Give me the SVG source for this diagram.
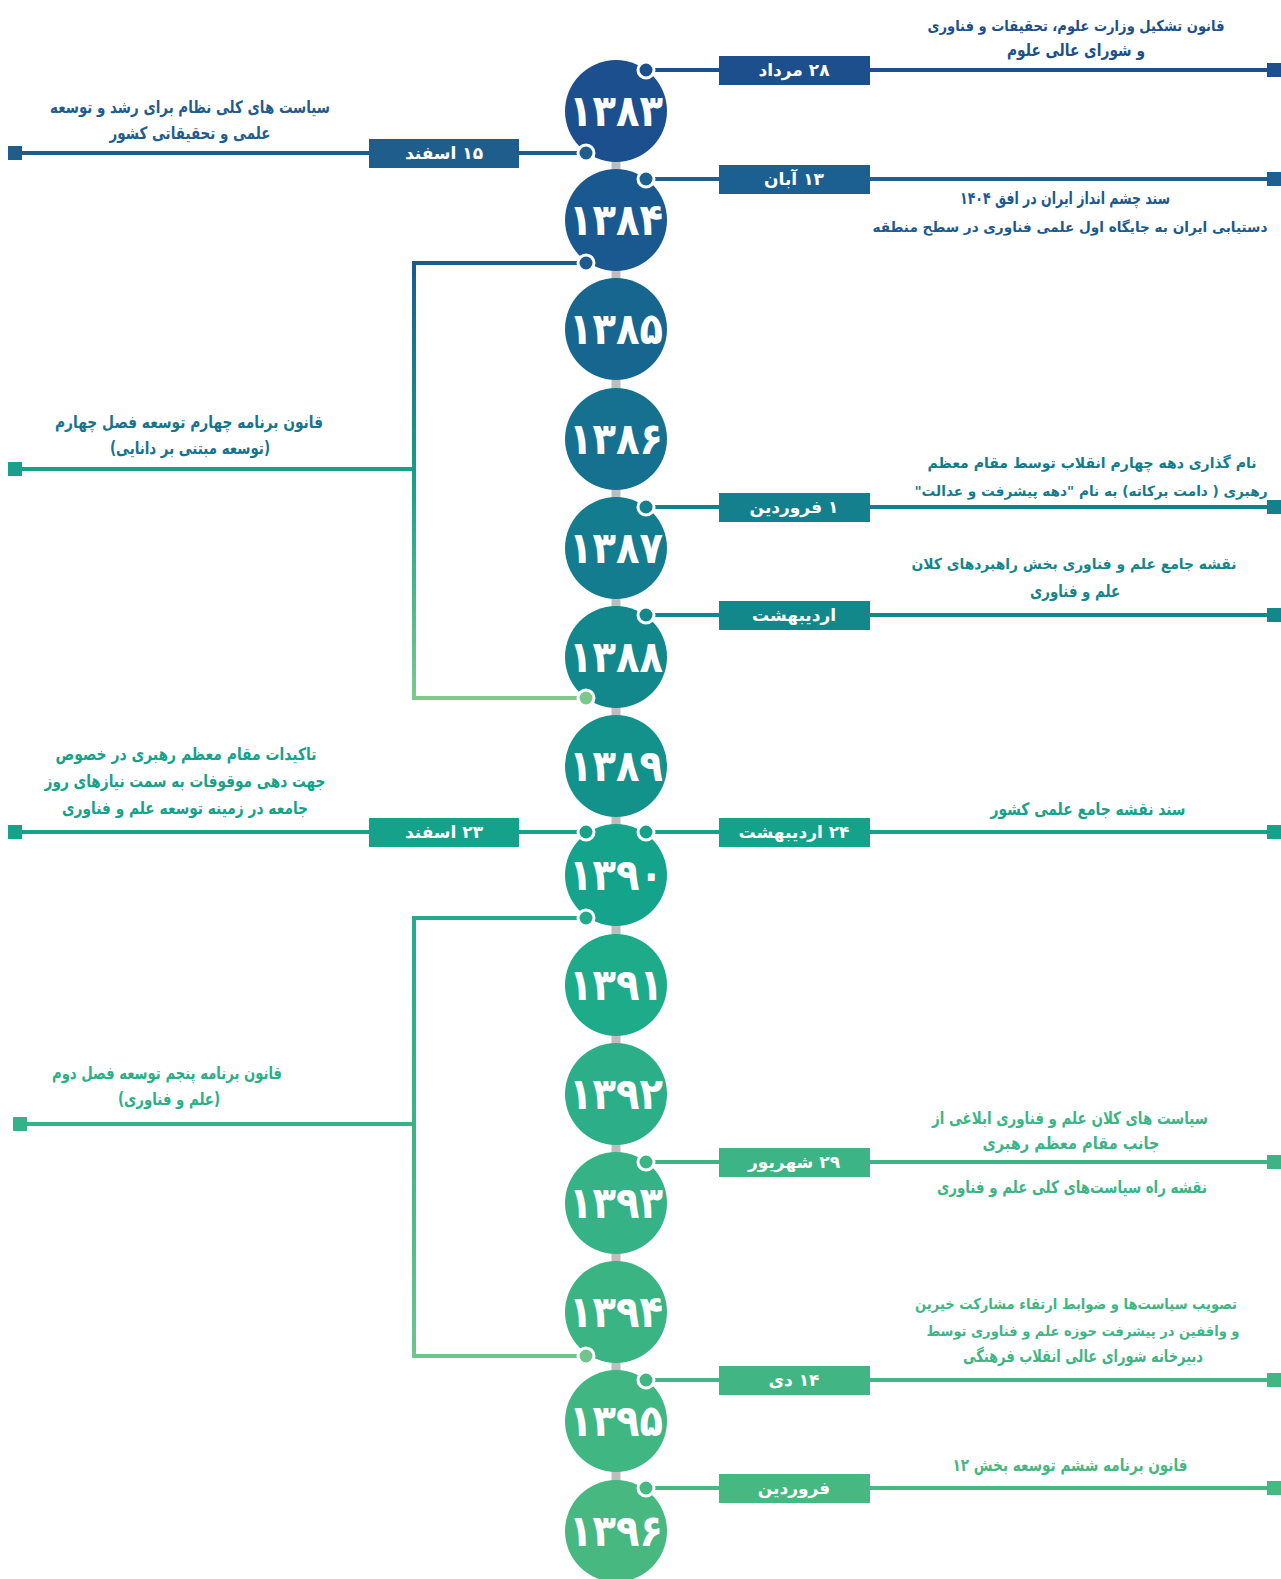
<svg xmlns="http://www.w3.org/2000/svg" width="1281" height="1579" viewBox="0 0 1281 1579">
<defs>
<style>
.yr{font-family:"DejaVu Sans",sans-serif;font-weight:bold;font-size:44px;fill:#fff;text-anchor:middle}
.lb{font-family:"DejaVu Sans",sans-serif;font-weight:bold;font-size:17px;fill:#fff;text-anchor:middle}
.tx{font-family:"DejaVu Sans",sans-serif;font-weight:bold;font-size:17px;text-anchor:middle}
.s14{font-size:14px}
.s15{font-size:15px}
.s16{font-size:16px}
.ln{fill:none;stroke-width:4}
.dot{stroke:#fff;stroke-width:3}
</style>
<linearGradient id="g1" gradientUnits="userSpaceOnUse" x1="0" y1="263" x2="0" y2="698">
<stop offset="0" stop-color="#1d5a8e"/><stop offset="0.5" stop-color="#17a08a"/><stop offset="1" stop-color="#7cc98c"/>
</linearGradient>
<linearGradient id="g2" gradientUnits="userSpaceOnUse" x1="0" y1="918" x2="0" y2="1356">
<stop offset="0" stop-color="#22ab8b"/><stop offset="0.5" stop-color="#3cb486"/><stop offset="1" stop-color="#6fc58c"/>
</linearGradient>
</defs>
<rect width="1281" height="1579" fill="#fff"/>
<line x1="616" y1="111" x2="616" y2="1531" stroke="#bdbdbd" stroke-width="9"/>
<g id="connectors">
<path class="ln" stroke="#1d4f8c" d="M646,70 H1274"/>
<path class="ln" stroke="#1b6090" d="M646,179 H1274"/>
<path class="ln" stroke="#147f8d" d="M646,507 H1274"/>
<path class="ln" stroke="#12888b" d="M646,615 H1274"/>
<path class="ln" stroke="#16a18a" d="M646,832 H1274"/>
<path class="ln" stroke="#3cb486" d="M646,1162 H1274"/>
<path class="ln" stroke="#41b684" d="M646,1380 H1274"/>
<path class="ln" stroke="#46b882" d="M646,1488 H1274"/>
<path class="ln" stroke="#1f5d8d" d="M15,153 H586"/>
<path class="ln" stroke="#16a18a" d="M15,832 H586"/>
<path class="ln" stroke="url(#g1)" d="M586,263 H414 V698 H586"/>
<path class="ln" stroke="#18a08a" d="M414,469 H15"/>
<path class="ln" stroke="url(#g2)" d="M586,918 H414 V1356 H586"/>
<path class="ln" stroke="#35b287" d="M414,1124 H20"/>
<rect x="1267" y="63" width="14" height="14" fill="#1d4f8c"/>
<rect x="1267" y="172" width="14" height="14" fill="#1b6090"/>
<rect x="1267" y="500" width="14" height="14" fill="#147f8d"/>
<rect x="1267" y="608" width="14" height="14" fill="#12888b"/>
<rect x="1267" y="825" width="14" height="14" fill="#16a18a"/>
<rect x="1267" y="1155" width="14" height="14" fill="#3cb486"/>
<rect x="1267" y="1373" width="14" height="14" fill="#41b684"/>
<rect x="1267" y="1481" width="14" height="14" fill="#46b882"/>
<rect x="8" y="146" width="14" height="14" fill="#1f5d8d"/>
<rect x="8" y="462" width="14" height="14" fill="#18a08a"/>
<rect x="8" y="825" width="14" height="14" fill="#16a18a"/>
<rect x="13" y="1117" width="14" height="14" fill="#35b287"/>
</g>
<g id="y1383"><circle cx="616" cy="111" r="51" fill="#1c4f8d"/><text class="yr" x="616" y="126" textLength="94" lengthAdjust="spacingAndGlyphs">۱۳۸۳</text></g>
<g id="y1384"><circle cx="616" cy="220" r="51" fill="#1a5990"/><text class="yr" x="616" y="235" textLength="94" lengthAdjust="spacingAndGlyphs">۱۳۸۴</text></g>
<g id="y1385"><circle cx="616" cy="329" r="51" fill="#176690"/><text class="yr" x="616" y="344" textLength="94" lengthAdjust="spacingAndGlyphs">۱۳۸۵</text></g>
<g id="y1386"><circle cx="616" cy="439" r="51" fill="#15718f"/><text class="yr" x="616" y="454" textLength="94" lengthAdjust="spacingAndGlyphs">۱۳۸۶</text></g>
<g id="y1387"><circle cx="616" cy="548" r="51" fill="#137c8e"/><text class="yr" x="616" y="563" textLength="94" lengthAdjust="spacingAndGlyphs">۱۳۸۷</text></g>
<g id="y1388"><circle cx="616" cy="657" r="51" fill="#12878c"/><text class="yr" x="616" y="672" textLength="94" lengthAdjust="spacingAndGlyphs">۱۳۸۸</text></g>
<g id="y1389"><circle cx="616" cy="766" r="51" fill="#13928b"/><text class="yr" x="616" y="781" textLength="94" lengthAdjust="spacingAndGlyphs">۱۳۸۹</text></g>
<g id="y1390"><circle cx="616" cy="875" r="51" fill="#15a38b"/><text class="yr" x="616" y="890" textLength="94" lengthAdjust="spacingAndGlyphs">۱۳۹۰</text></g>
<g id="y1391"><circle cx="616" cy="985" r="51" fill="#1eab8a"/><text class="yr" x="616" y="1000" textLength="94" lengthAdjust="spacingAndGlyphs">۱۳۹۱</text></g>
<g id="y1392"><circle cx="616" cy="1094" r="51" fill="#2caf88"/><text class="yr" x="616" y="1109" textLength="94" lengthAdjust="spacingAndGlyphs">۱۳۹۲</text></g>
<g id="y1393"><circle cx="616" cy="1203" r="51" fill="#35b286"/><text class="yr" x="616" y="1218" textLength="94" lengthAdjust="spacingAndGlyphs">۱۳۹۳</text></g>
<g id="y1394"><circle cx="616" cy="1312" r="51" fill="#3bb484"/><text class="yr" x="616" y="1327" textLength="94" lengthAdjust="spacingAndGlyphs">۱۳۹۴</text></g>
<g id="y1395"><circle cx="616" cy="1421" r="51" fill="#40b682"/><text class="yr" x="616" y="1436" textLength="94" lengthAdjust="spacingAndGlyphs">۱۳۹۵</text></g>
<g id="y1396"><circle cx="616" cy="1531" r="51" fill="#47b880"/><text class="yr" x="616" y="1546" textLength="94" lengthAdjust="spacingAndGlyphs">۱۳۹۶</text></g>
<g id="e-mordad">
<rect x="719" y="56" width="151" height="29" fill="#1d4f8c"/><text class="lb" x="794" y="76" direction="rtl">۲۸ مرداد</text>
<circle class="dot" cx="646" cy="70" r="8" fill="#1d4f8c"/>
<text class="tx s15" fill="#1d4f8c" x="1076" y="31" direction="rtl" textLength="297" lengthAdjust="spacingAndGlyphs">قانون تشکیل وزارت علوم، تحقیقات و فناوری</text>
<text class="tx" fill="#1d4f8c" x="1076" y="56" direction="rtl" textLength="138" lengthAdjust="spacingAndGlyphs">و شورای عالی علوم</text>
</g>
<g id="e-aban">
<rect x="719" y="165" width="151" height="29" fill="#1b6090"/><text class="lb" x="794" y="185" direction="rtl">۱۳ آبان</text>
<circle class="dot" cx="646" cy="179" r="8" fill="#1b6090"/>
<text class="tx" fill="#1b5a8e" x="1065" y="204" direction="rtl" textLength="210" lengthAdjust="spacingAndGlyphs">سند چشم انداز ایران در افق ۱۴۰۴</text>
<text class="tx s14" fill="#1b5a8e" x="1070" y="232" direction="rtl" textLength="395" lengthAdjust="spacingAndGlyphs">دستیابی ایران به جایگاه اول علمی فناوری در سطح منطقه</text>
</g>
<g id="e-esfand15">
<rect x="369" y="139" width="150" height="29" fill="#1f5d8d"/><text class="lb" x="444" y="159" direction="rtl">۱۵ اسفند</text>
<circle class="dot" cx="586" cy="153" r="8" fill="#1f5d8d"/>
<text class="tx" fill="#1f5d8d" x="190" y="113" direction="rtl" textLength="280" lengthAdjust="spacingAndGlyphs">سیاست های کلی نظام برای رشد و توسعه</text>
<text class="tx" fill="#1f5d8d" x="190" y="139" direction="rtl" textLength="161" lengthAdjust="spacingAndGlyphs">علمی و تحقیقاتی کشور</text>
</g>
<g id="e-plan4">
<circle class="dot" cx="586" cy="263" r="8" fill="#1d5a8e"/>
<circle class="dot" cx="586" cy="698" r="8" fill="#7cc98c"/>
<text class="tx" fill="#17738e" x="189" y="428" direction="rtl" textLength="268" lengthAdjust="spacingAndGlyphs">قانون برنامه چهارم توسعه فصل چهارم</text>
<text class="tx" fill="#17738e" x="190" y="454" direction="rtl" textLength="160" lengthAdjust="spacingAndGlyphs">(توسعه مبتنی بر دانایی)</text>
</g>
<g id="e-farvardin1">
<rect x="719" y="493" width="151" height="29" fill="#147f8d"/><text class="lb" x="794" y="513" direction="rtl">۱ فروردین</text>
<circle class="dot" cx="646" cy="507" r="8" fill="#147f8d"/>
<text class="tx s15" fill="#147b8d" x="1092" y="468" direction="rtl" textLength="329" lengthAdjust="spacingAndGlyphs">نام گذاری دهه چهارم انقلاب توسط  مقام معظم</text>
<text class="tx s14" fill="#147b8d" x="1091" y="496" direction="rtl" textLength="353" lengthAdjust="spacingAndGlyphs">رهبری ( دامت برکاته) به نام "دهه پیشرفت و عدالت"</text>
</g>
<g id="e-ordibehesht">
<rect x="719" y="601" width="151" height="29" fill="#12888b"/><text class="lb" x="794" y="621" direction="rtl">اردیبهشت</text>
<circle class="dot" cx="646" cy="615" r="8" fill="#12888b"/>
<text class="tx s15" fill="#13858b" x="1074" y="569" direction="rtl" textLength="325" lengthAdjust="spacingAndGlyphs">نقشه جامع علم و فناوری بخش راهبردهای کلان</text>
<text class="tx" fill="#13858b" x="1075" y="597" direction="rtl" textLength="90" lengthAdjust="spacingAndGlyphs">علم و فناوری</text>
</g>
<g id="e-esfand23">
<rect x="369" y="818" width="150" height="29" fill="#16a18a"/><text class="lb" x="444" y="838" direction="rtl">۲۳ اسفند</text>
<circle class="dot" cx="586" cy="832" r="8" fill="#16a18a"/>
<text class="tx" fill="#16a18a" x="186" y="760" direction="rtl" textLength="261" lengthAdjust="spacingAndGlyphs">تاکیدات مقام معظم رهبری  در خصوص</text>
<text class="tx" fill="#16a18a" x="185" y="787" direction="rtl" textLength="281" lengthAdjust="spacingAndGlyphs">جهت دهی موقوفات به سمت نیازهای روز</text>
<text class="tx" fill="#16a18a" x="185" y="814" direction="rtl" textLength="246" lengthAdjust="spacingAndGlyphs">جامعه در زمینه توسعه علم و فناوری</text>
</g>
<g id="e-ordibehesht24">
<rect x="719" y="818" width="151" height="29" fill="#16a18a"/><text class="lb" x="794" y="838" direction="rtl">۲۴ اردیبهشت</text>
<circle class="dot" cx="646" cy="832" r="8" fill="#16a18a"/>
<text class="tx" fill="#16a18a" x="1088" y="815" direction="rtl" textLength="195" lengthAdjust="spacingAndGlyphs">سند نقشه جامع علمی کشور</text>
</g>
<g id="e-plan5">
<circle class="dot" cx="586" cy="918" r="8" fill="#22ab8b"/>
<circle class="dot" cx="586" cy="1356" r="8" fill="#6fc58c"/>
<text class="tx" fill="#2aae88" x="167" y="1079" direction="rtl" textLength="230" lengthAdjust="spacingAndGlyphs">قانون برنامه پنجم توسعه فصل دوم</text>
<text class="tx" fill="#2aae88" x="169" y="1105" direction="rtl" textLength="102" lengthAdjust="spacingAndGlyphs">(علم و فناوری)</text>
</g>
<g id="e-shahrivar29">
<rect x="719" y="1148" width="151" height="29" fill="#3cb486"/><text class="lb" x="794" y="1168" direction="rtl">۲۹ شهریور</text>
<circle class="dot" cx="646" cy="1162" r="8" fill="#3cb486"/>
<text class="tx" fill="#3cb486" x="1070" y="1124" direction="rtl" textLength="276" lengthAdjust="spacingAndGlyphs">سیاست های کلان علم و فناوری ابلاغی از</text>
<text class="tx" fill="#3cb486" x="1071" y="1149" direction="rtl" textLength="177" lengthAdjust="spacingAndGlyphs">جانب مقام معظم رهبری</text>
<text class="tx" fill="#3cb486" x="1072" y="1193" direction="rtl" textLength="270" lengthAdjust="spacingAndGlyphs">نقشه راه سیاست‌های کلی علم و فناوری</text>
</g>
<g id="e-dey14">
<rect x="719" y="1366" width="151" height="29" fill="#41b684"/><text class="lb" x="794" y="1386" direction="rtl">۱۴ دی</text>
<circle class="dot" cx="646" cy="1380" r="8" fill="#41b684"/>
<text class="tx s15" fill="#3fb585" x="1076" y="1309" direction="rtl" textLength="322" lengthAdjust="spacingAndGlyphs">تصویب سیاست‌ها و ضوابط ارتقاء مشارکت خیرین</text>
<text class="tx s14" fill="#3fb585" x="1083" y="1336" direction="rtl" textLength="313" lengthAdjust="spacingAndGlyphs">و واقفین در پیشرفت حوزه علم و فناوری توسط</text>
<text class="tx" fill="#3fb585" x="1083" y="1362" direction="rtl" textLength="240" lengthAdjust="spacingAndGlyphs">دبیرخانه شورای عالی انقلاب فرهنگی</text>
</g>
<g id="e-farvardin">
<rect x="719" y="1474" width="151" height="29" fill="#46b882"/><text class="lb" x="794" y="1494" direction="rtl">فروردین</text>
<circle class="dot" cx="646" cy="1488" r="8" fill="#46b882"/>
<text class="tx" fill="#44b783" x="1070" y="1471" direction="rtl" textLength="235" lengthAdjust="spacingAndGlyphs">قانون برنامه ششم توسعه بخش ۱۲</text>
</g>
</svg>
